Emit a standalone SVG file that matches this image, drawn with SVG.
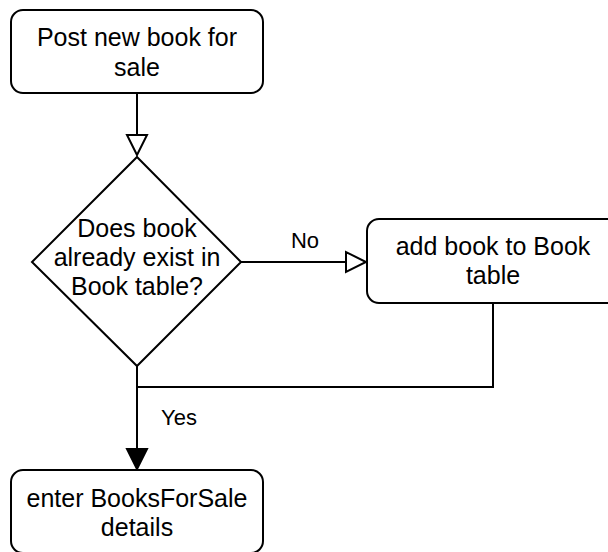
<svg xmlns="http://www.w3.org/2000/svg" width="608" height="552" viewBox="0 0 608 552">
<style>
.node{fill:#fff;stroke:#000;stroke-width:2}
.t{font-family:"Liberation Sans",Arial,Helvetica,sans-serif;font-size:25px;fill:#000;text-anchor:middle}
.lbl{font-family:"Liberation Sans",Arial,Helvetica,sans-serif;font-size:22px;fill:#000;text-anchor:middle}
.edge{fill:none;stroke:#000;stroke-width:2}
.open{fill:#fff;stroke:#000;stroke-width:2;stroke-linejoin:miter}
.filled{fill:#000;stroke:#000;stroke-width:2}
</style>
<rect width="608" height="552" fill="#fff"/>
<g id="connectors">
<path class="edge" d="M137 93 V135"/>
<polygon class="open" points="127,135 147,135 137,155"/>
<path class="edge" d="M241 262 H346"/>
<polygon class="open" points="346,252 346,272 366,262"/>
<path class="edge" d="M493 303 V387 H137"/>
<path class="edge" d="M137 366 V449"/>
<polygon class="filled" points="127,449 147,449 137,469"/>
<text class="lbl" x="305" y="248">No</text>
<text class="lbl" x="179" y="425">Yes</text>
</g>
<g id="post">
<rect class="node" x="11" y="10" width="252" height="83" rx="12"/>
<text class="t" x="137" y="46">Post new book for</text>
<text class="t" x="137" y="76">sale</text>
</g>
<g id="decision">
<polygon class="node" points="137,157 241,262 137,366 32,262"/>
<text class="t" x="137" y="237">Does book</text>
<text class="t" x="137" y="266">already exist in</text>
<text class="t" x="137" y="295">Book table?</text>
</g>
<g id="add">
<rect class="node" x="367" y="219" width="252" height="84" rx="12"/>
<text class="t" x="493" y="255">add book to Book</text>
<text class="t" x="493" y="284">table</text>
</g>
<g id="enter">
<rect class="node" x="11" y="470" width="252" height="83" rx="12"/>
<text class="t" x="137" y="507">enter BooksForSale</text>
<text class="t" x="137" y="536">details</text>
</g>
</svg>
